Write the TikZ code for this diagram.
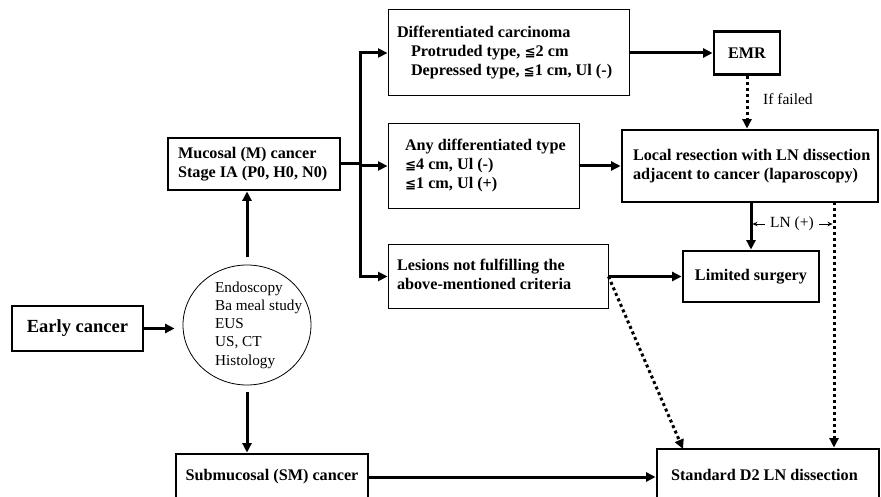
\documentclass[tikz,border=0pt]{standalone}
\usepackage{fontspec}
\setmainfont{Liberation Serif}
\newfontfamily\symfont{DejaVu Sans}[Scale=0.82]
\usetikzlibrary{arrows.meta,calc,shapes.geometric}

% fonts used in the chart
\newcommand\boxfont{\fontsize{16.2}{19}\selectfont\bfseries}
\newcommand\bigboxfont{\fontsize{18.5}{21}\selectfont\bfseries}
\newcommand\ellfont{\fontsize{15.2}{18.3}\selectfont}
\newcommand\notefont{\fontsize{15.5}{17}\selectfont}
% "less than or equal" sign of the size limits
\newcommand\lesym{{\symfont\bfseries ≦}}
% a block of left-aligned lines inside a box of fixed width #1, indented by #2
\newcommand\boxlines[3]{\makebox[#1][l]{\hspace*{#2}\begin{tabular}{@{}l@{}}#3\end{tabular}}}

\tikzset{
  heavy/.style={draw, line width=2.8pt, inner sep=0pt, font=\boxfont},
  light/.style={draw, line width=1pt, inner sep=0pt, font=\boxfont},
  flow/.style={line width=3pt, -{Triangle[length=9.5pt,width=9pt]}},
  flowdot/.style={flow, dash pattern=on 3pt off 3pt},
  plain/.style={line width=3pt, line cap=rect},
  note/.style={font=\notefont, inner sep=0pt},
  tick/.style={line width=0.8pt, -{Stealth[length=5pt,width=4.5pt]}},
}

\begin{document}
\begin{tikzpicture}[x=1pt, y=-1pt]
\path[use as bounding box, fill=white] (0,0) rectangle (881,497);

% boxes
\node[heavy, font=\bigboxfont, minimum width=131pt, minimum height=45pt] (early) at (77.5,328.5) {Early cancer};
\node[draw, ellipse, line width=0.8pt, minimum width=128pt, minimum height=120pt, inner sep=0pt] (eval) at (247,325) {};
\node[font=\ellfont, align=left, inner sep=0pt, anchor=west] (evaltxt) at (215,325) {Endoscopy\\Ba meal study\\EUS\\US, CT\\Histology};

\node[heavy, minimum width=172pt, minimum height=52pt] (muc) at (254,164)
  {\boxlines{172pt}{10pt}{Mucosal (M) cancer\\Stage IA (P0, H0, N0)}};

\node[light, minimum width=241pt, minimum height=86pt] (b1) at (508.5,53)
  {\boxlines{241pt}{9pt}{Differentiated carcinoma\\\hspace*{14pt}Protruded type, \lesym2 cm\\\hspace*{14pt}Depressed type, \lesym1 cm, Ul (-)}};
\node[light, minimum width=191pt, minimum height=85pt] (b2) at (483.5,166)
  {\boxlines{191pt}{17pt}{Any differentiated type\\\lesym4 cm, Ul (-)\\\lesym1 cm, Ul (+)}};
\node[light, minimum width=220pt, minimum height=64pt] (lesions) at (498,276.5)
  {\boxlines{220pt}{9pt}{Lesions not fulfilling the\\above-mentioned criteria}};

\node[heavy, minimum width=66pt, minimum height=43pt] (emr) at (747,53) {EMR};
\node[heavy, minimum width=256pt, minimum height=72pt] (local) at (750,166)
  {\raisebox{4pt}{\boxlines{256pt}{11pt}{Local resection with LN dissection\\adjacent to cancer (laparoscopy)}}};
\node[heavy, minimum width=136pt, minimum height=51pt] (limited) at (751,276.5) {Limited surgery};

\node[heavy, minimum width=192pt, minimum height=46pt] (sub) at (272,477) {Submucosal (SM) cancer};
\node[heavy, minimum width=222pt, minimum height=56pt] (std) at (768,477)
  {\boxlines{222pt}{14pt}{Standard D2 LN dissection}};

% branch points
\coordinate (t1) at (360,53);
\coordinate (t3) at (360,276.5);
\coordinate (dtop) at (834,202);
\coordinate (stdin) at (683,449);

% connectors
\draw[flow] (early.east) -- (early.east -| eval.west) [shorten >=8pt];
\draw[flow, shorten <=8pt] (eval.north) -- (eval.north |- muc.south);
\draw[flow, shorten <=7pt] (eval.south) -- (eval.south |- sub.north);

\draw[plain] (t1) -- (t3);
\draw[plain] (muc.east) -- (muc.east -| t1);
\draw[flow] (t1) -- (b1.west);
\draw[flow] (t1 |- b2.west) -- (b2.west);
\draw[flow] (t3) -- (lesions.west);

\draw[flow] (b1.east) -- (emr.west);
\draw[flowdot] (emr.south) -- (emr.south |- local.north);
\node[note, anchor=west] (failed) at (763,99) {If failed};

\draw[flow] (b2.east) -- (local.west);
\draw[flow] (lesions.east) -- (limited.west);
\draw[flow] (limited.north |- local.south) -- (limited.north);

\draw[flowdot] (dtop) -- (dtop |- std.north);
\draw[flowdot] (lesions.east) -- (stdin);

\node[note, inner xsep=5pt] (ln) at (792,224) {LN (+)};
\draw[tick, shorten >=1.5pt] (ln.west) -- (ln.west -| limited.north);
\draw[tick, shorten >=1.5pt] (ln.east) -- (ln.east -| dtop);

\draw[flow] (sub.east) -- (std.west);
\end{tikzpicture}
\end{document}
